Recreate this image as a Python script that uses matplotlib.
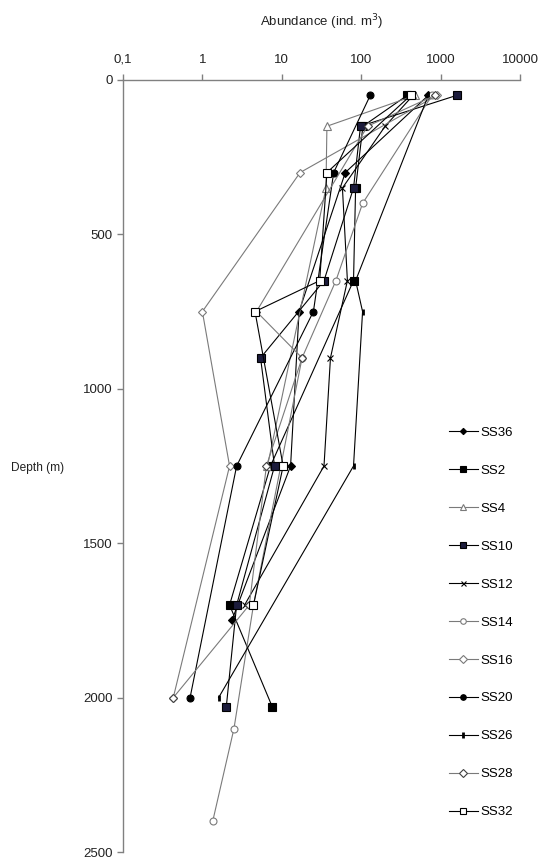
import matplotlib
matplotlib.use("Agg")
import matplotlib.pyplot as plt
from matplotlib.ticker import FixedLocator, NullLocator

plt.rcParams['font.family'] = ['Liberation Sans', 'DejaVu Sans']

series_names = ["SS36", "SS2", "SS4", "SS10", "SS12", "SS14", "SS16", "SS20", "SS26", "SS28", "SS32"]

ss36_depth = [50, 300, 750, 1250, 1750]
ss36_abund = [700, 63, 16.5, 12.9, 2.35]

ss2_depth = [50, 150, 350, 650, 1250, 1700, 2030]
ss2_abund = [380, 105, 85, 80, 7.2, 2.2, 7.6]

ss4_depth = [50, 150, 350, 1250]
ss4_abund = [480, 37, 36, 6.6]

ss10_depth = [50, 150, 350, 650, 900, 1250, 1700, 2030]
ss10_abund = [1600, 98, 80, 34, 5.4, 8.1, 2.7, 2.0]

ss12_depth = [50, 150, 350, 650, 900, 1250, 1700]
ss12_abund = [450, 200, 58, 67, 41, 34, 3.4]

ss14_depth = [50, 400, 650, 900, 1700, 2100, 2400]
ss14_abund = [780, 104, 48, 18, 4.4, 2.5, 1.35]

ss16_depth = [50, 300, 750, 1250, 2000]
ss16_abund = [900, 17, 1.0, 2.2, 0.43]

ss20_depth = [50, 300, 750, 1250, 2000]
ss20_abund = [130, 45, 25, 2.7, 0.7]

ss26_depth = [50, 650, 750, 1250, 2000]
ss26_abund = [700, 85, 104, 80, 1.6]

ss28_depth = [50, 150, 750, 900, 1250, 1700, 2000]
ss28_abund = [850, 120, 4.8, 18, 6.4, 3.9, 0.43]

ss32_depth = [50, 300, 650, 750, 1250, 1700]
ss32_abund = [420, 37, 30, 4.6, 10.4, 4.4]

depths = [ss36_depth, ss2_depth, ss4_depth, ss10_depth, ss12_depth, ss14_depth,
          ss16_depth, ss20_depth, ss26_depth, ss28_depth, ss32_depth]
abunds = [ss36_abund, ss2_abund, ss4_abund, ss10_abund, ss12_abund, ss14_abund,
          ss16_abund, ss20_abund, ss26_abund, ss28_abund, ss32_abund]

x_ticks = [0.1, 1, 10, 100, 1000, 10000]
x_tick_labels = ["0,1", "1", "10", "100", "1000", "10000"]
y_ticks = [0, 500, 1000, 1500, 2000, 2500]

BLACK = "#000000"
GRAY = "#7a7a7a"
styles = [
    dict(color=BLACK, marker="D", mfc=BLACK, mec=BLACK, ms=4),
    dict(color=BLACK, marker="s", mfc=BLACK, mec=BLACK, ms=5.5),
    dict(color=GRAY, marker="^", mfc="white", mec=GRAY, ms=6),
    dict(color=BLACK, marker="s", mfc="#1c1c3c", mec=BLACK, ms=5.5),
    dict(color=BLACK, marker="x", mfc=BLACK, mec=BLACK, ms=4.5),
    dict(color=GRAY, marker="o", mfc="white", mec=GRAY, ms=5),
    dict(color=GRAY, marker="D", mfc="white", mec=GRAY, ms=4.5),
    dict(color=BLACK, marker="o", mfc=BLACK, mec=BLACK, ms=5),
    dict(color=BLACK, marker="|", mfc=BLACK, mec=BLACK, ms=5, mew=2),
    dict(color=GRAY, marker="D", mfc="white", mec="#404040", ms=4.5),
    dict(color=BLACK, marker="s", mfc="white", mec=BLACK, ms=5.5),
]

fig = plt.figure(figsize=(5.44, 8.59), dpi=100)
ax = fig.add_axes([0.226, 0.008, 0.73, 0.899])

for name, d, a, st in zip(series_names, depths, abunds, styles):
    kw = dict(st)
    mew = kw.pop("mew", 0.8)
    ax.plot(a, d, color=kw["color"], lw=0.8, marker=kw["marker"],
            markerfacecolor=kw["mfc"], markeredgecolor=kw["mec"],
            markersize=kw["ms"], markeredgewidth=mew, label=name)

ax.set_xscale("log")
ax.set_xlim(0.1, 10000)
ax.set_ylim(2500, 0)
ax.xaxis.set_major_locator(FixedLocator(x_ticks))
ax.xaxis.set_minor_locator(NullLocator())
ax.set_xticklabels(x_tick_labels)
ax.set_yticks(y_ticks)
ax.xaxis.tick_top()
ax.xaxis.set_label_position("top")

for s in ["right", "bottom"]:
    ax.spines[s].set_visible(False)
for s in ["left", "top"]:
    ax.spines[s].set_color("#808080")
    ax.spines[s].set_linewidth(1.0)
ax.tick_params(axis="both", colors="#808080", labelcolor="#222222", labelsize=9.5,
               length=4, width=1.0, direction="out")
ax.tick_params(axis="x", pad=6)

ax.set_xlabel("Abundance (ind. m$^{3}$)", fontsize=9.5, color="#222222", labelpad=20)
ax.set_ylabel("Depth (m)", fontsize=8.6, color="#222222", rotation=0, labelpad=0)
ax.yaxis.set_label_coords(-0.215, 0.49)

leg = ax.legend(loc="upper left", bbox_to_anchor=(0.807, 0.558), frameon=False,
                fontsize=9.5, labelspacing=1.95, handlelength=2.2, handletextpad=0.2,
                borderaxespad=0, markerscale=0.8)

fig.savefig("out.png", dpi=100, facecolor="white")
